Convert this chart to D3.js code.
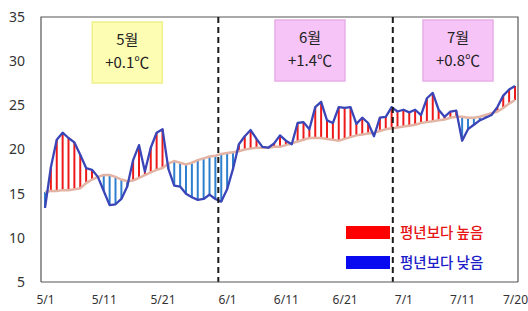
<!DOCTYPE html>
<html>
<head>
<meta charset="utf-8">
<script src="https://cdn.jsdelivr.net/npm/d3@7"></script>
<style>
  body { margin: 0; background: #fff; }
  text { font-family: "Noto Sans CJK KR", "Noto Sans", sans-serif; }
</style>
</head>
<body>
<div id="chart"></div>
<script>
// 일평균기온 5/1 ~ 7/20 (하루 한 개)
const observed = [
  13.4, 18.0, 21.1, 21.9, 21.3, 20.8, 19.4, 17.9, 17.7, 16.9,
  15.3, 13.7, 13.8, 14.4, 15.8, 18.8, 20.5, 17.5, 20.2, 21.9,
  22.3, 17.8, 15.9, 15.8, 15.0, 14.6, 14.3, 14.4, 14.9, 14.4,
  14.1, 15.5, 17.8, 20.6, 21.5, 22.2, 21.2, 20.3, 20.2, 20.7,
  21.6, 21.0, 20.6, 23.0, 23.1, 22.3, 24.8, 25.4, 23.3, 23.0,
  24.8, 24.7, 24.8, 22.9, 23.6, 23.0, 21.5, 23.6, 23.7, 24.8,
  24.3, 24.5, 24.2, 24.5, 23.9, 25.8, 26.4, 24.5, 23.7, 24.3,
  24.4, 21.0, 22.3, 22.8, 23.3, 23.6, 23.9, 24.8, 26.1, 26.8,
  27.2
];
// 평년값
const normal = [
  15.2, 15.3, 15.3, 15.4, 15.4, 15.5, 15.6, 16.2, 16.6, 16.9,
  17.1, 17.1, 16.9, 16.6, 16.4, 16.5, 16.8, 17.1, 17.4, 17.7,
  17.9, 18.4, 18.7, 18.5, 18.3, 18.5, 18.8, 19.0, 19.2, 19.3,
  19.5, 19.6, 19.7, 19.8, 20.0, 20.1, 20.2, 20.2, 20.2, 20.3,
  20.3, 20.5, 20.7, 20.9, 21.1, 21.3, 21.3, 21.3, 21.2, 21.1,
  21.0, 21.2, 21.4, 21.6, 21.7, 21.8, 21.9, 22.1, 22.3, 22.4,
  22.5, 22.6, 22.7, 22.8, 23.0, 23.1, 23.2, 23.3, 23.4, 23.6,
  23.7, 23.7, 23.6, 23.6, 23.7, 23.9, 24.1, 24.3, 24.7, 25.2,
  25.6
];
const tickDays = [0, 10, 20, 31, 41, 51, 61, 71, 80];
const tickLabels = ["5/1", "5/11", "5/21", "6/1", "6/11", "6/21", "7/1", "7/11", "7/20"];
const yTicks = [5, 10, 15, 20, 25, 30, 35];
const monthNames = ["5월", "6월", "7월"];
const monthAnomaly = ["+0.1℃", "+1.4℃", "+0.8℃"];
const legendLabels = ["평년보다 높음", "평년보다 낮음"];

// 배치용 값
const boxDays = [14, 45.1, 70.3];
const boxFills = ["#fdfdb4", "#f6c4f6", "#f6c4f6"];
const boxStrokes = ["#f0f08a", "#e8aee8", "#e8aee8"];
const dividerDays = [29.5, 59.2];

const width = 528;
const height = 311;

const svg = d3.select("#chart")
  .append("svg")
  .attr("width", width)
  .attr("height", height);

const x = d3.scaleLinear().domain([0, 80]).range([45, 515]);
const y = d3.scaleLinear().domain([5, 35]).range([282, 17]);

const left = 41, right = 518;

// 테두리
svg.append("path")
  .attr("d", `M${left},${y(5)}V${y(35)}H${right}V${y(5)}`)
  .attr("fill", "none")
  .attr("stroke", "#555")
  .attr("stroke-width", 1.2);

// 세로 빗금 (평년값 ~ 관측값)
svg.selectAll("line.hatch")
  .data(observed)
  .enter()
  .append("line")
  .attr("class", "hatch")
  .attr("x1", (d, i) => x(i))
  .attr("x2", (d, i) => x(i))
  .attr("y1", (d, i) => y(normal[i]))
  .attr("y2", d => y(d))
  .attr("stroke", (d, i) => d >= normal[i] ? "#ee1a1a" : "#2f7fcf")
  .attr("stroke-width", 2);

const line = d3.line()
  .x((d, i) => x(i))
  .y(d => y(d));

svg.append("path")
  .datum(normal)
  .attr("d", line)
  .attr("fill", "none")
  .attr("stroke", "#e3b4a4")
  .attr("stroke-width", 2.5);

svg.append("path")
  .datum(observed)
  .attr("d", line)
  .attr("fill", "none")
  .attr("stroke", "#3a45b8")
  .attr("stroke-width", 2.3)
  .attr("stroke-linejoin", "round");

// 월 경계 점선
svg.selectAll("line.divider")
  .data(dividerDays)
  .enter()
  .append("line")
  .attr("x1", d => x(d))
  .attr("x2", d => x(d))
  .attr("y1", y(35))
  .attr("y2", y(5))
  .attr("stroke", "#1a1a1a")
  .attr("stroke-width", 2)
  .attr("stroke-dasharray", "6,4");

// 하단 축선
svg.append("line")
  .attr("x1", left).attr("x2", right)
  .attr("y1", y(5)).attr("y2", y(5))
  .attr("stroke", "#555")
  .attr("stroke-width", 1.2);

// y축 눈금
const yAxis = svg.append("g")
  .attr("transform", `translate(${left},0)`)
  .call(d3.axisLeft(y).tickValues(yTicks).tickSize(0).tickPadding(16));
yAxis.select(".domain").remove();
yAxis.selectAll("text")
  .attr("font-size", 14)
  .attr("fill", "#333")
  .style("font-family", "'Noto Sans', sans-serif");

// x축 눈금
const xAxis = svg.append("g")
  .attr("transform", `translate(0,${y(5)})`)
  .call(d3.axisBottom(x).tickValues(tickDays).tickFormat((d, i) => tickLabels[i]).tickSize(0).tickPadding(13));
xAxis.select(".domain").remove();
xAxis.selectAll("text")
  .attr("font-size", 12)
  .attr("fill", "#333")
  .style("font-family", "'Noto Sans', sans-serif");

// 월별 편차 상자
const boxes = svg.selectAll("g.box")
  .data(monthNames)
  .enter()
  .append("g")
  .attr("transform", (d, i) => `translate(${x(boxDays[i])},0)`);

boxes.append("rect")
  .attr("x", -35)
  .attr("y", (d, i) => i === 0 ? 22 : 20)
  .attr("width", 70)
  .attr("height", 61)
  .attr("fill", (d, i) => boxFills[i])
  .attr("stroke", (d, i) => boxStrokes[i])
  .attr("stroke-width", 1.5);

boxes.append("text")
  .attr("y", (d, i) => i === 0 ? 45 : 43)
  .attr("text-anchor", "middle")
  .attr("font-size", 15)
  .attr("fill", "#222")
  .text(d => d);

boxes.append("text")
  .attr("y", (d, i) => i === 0 ? 68 : 66)
  .attr("text-anchor", "middle")
  .attr("font-size", 15)
  .attr("fill", "#222")
  .text((d, i) => monthAnomaly[i]);

// 범례
const legendColors = ["#ff0000", "#0a0af0"];
const legendText = ["#e61414", "#1c1cc8"];
const legend = svg.selectAll("g.legend")
  .data(legendLabels)
  .enter()
  .append("g")
  .attr("transform", (d, i) => `translate(346,${226 + i * 30})`);

legend.append("rect")
  .attr("width", 44)
  .attr("height", 13)
  .attr("fill", (d, i) => legendColors[i]);

legend.append("text")
  .attr("x", 54)
  .attr("y", 12)
  .attr("font-size", 14.5)
  .attr("font-weight", 500)
  .attr("fill", (d, i) => legendText[i])
  .text(d => d);
</script>
</body>
</html>
